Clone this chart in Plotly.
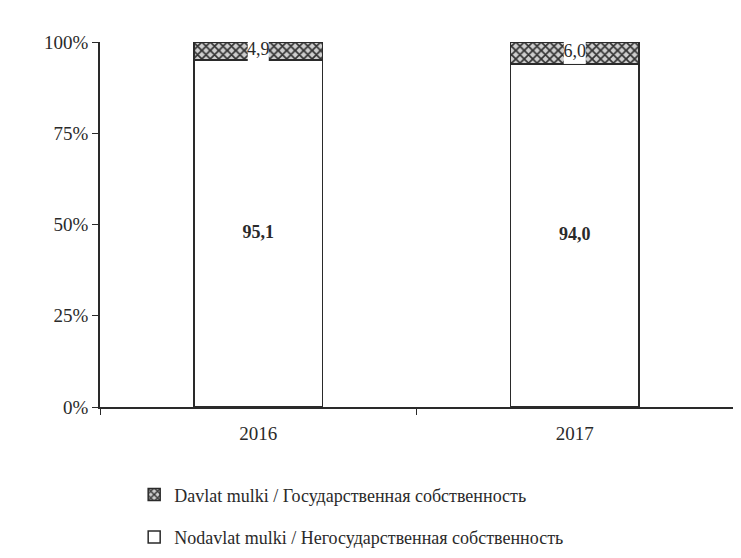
import plotly.graph_objects as go

years = ["2016", "2017"]
nonstate = [95.1, 94.0]
state = [4.9, 6.0]
name_state = "Davlat mulki / Государственная собственность"
name_nonstate = "Nodavlat mulki / Негосударственная собственность"
y_ticks = [0, 25, 50, 75, 100]

def fmt(v):
    return f"{v:.1f}".replace(".", ",")

FONT = "Liberation Serif"
INK = "#2a2a2a"
fig = go.Figure()
fig.add_trace(go.Bar(
    x=years, y=nonstate, name=name_nonstate, legendgroup="b", legendrank=2,
    marker=dict(color="white", line=dict(color=INK, width=1.5)),
))
fig.add_trace(go.Bar(
    x=years, y=state, name=name_state, legendgroup="a", legendrank=1,
    marker=dict(color="#333333", line=dict(color=INK, width=1.5),
                pattern=dict(shape="x", fgcolor="#333333", bgcolor="#cfcfcf",
                             size=6, solidity=0.5, fillmode="replace")),
))
fig.add_trace(go.Scatter(
    x=years, y=[n / 2 for n in nonstate], mode="text",
    text=[f"<b>{fmt(n)}</b>" for n in nonstate], textposition="middle center",
    textfont=dict(family=FONT, size=18, color=INK), showlegend=False,
    hoverinfo="skip",
))
fig.add_trace(go.Scatter(
    x=years, y=[n + s / 2 for n, s in zip(nonstate, state)], mode="markers+text",
    marker=dict(symbol="square", size=[21, 22], color="white", opacity=1,
                line=dict(width=0)),
    text=[fmt(s) for s in state], textposition="middle center",
    textfont=dict(family=FONT, size=18, color=INK), showlegend=False,
    hoverinfo="skip",
))

fig.update_layout(
    barmode="stack", width=725, height=542, bargap=0.595,
    margin=dict(l=92, r=0, t=34, b=143, autoexpand=False),
    paper_bgcolor="white", plot_bgcolor="white",
    font=dict(family=FONT, size=18, color=INK),
    showlegend=True,
    legend=dict(x=0.054, y=-0.19, xanchor="left", yanchor="top",
                traceorder="grouped", tracegroupgap=16,
                font=dict(family=FONT, size=18, color=INK)),
)
fig.update_xaxes(type="category", showline=True, linecolor=INK, linewidth=1.5,
                 ticks="outside", tickson="boundaries", ticklen=6, tickcolor=INK,
                 showgrid=False, ticklabelstandoff=8,
                 tickfont=dict(family=FONT, size=19, color=INK))
fig.update_yaxes(range=[0, 100], tickvals=y_ticks,
                 ticktext=[f"{v}%" for v in y_ticks],
                 showline=True, linecolor=INK, linewidth=1.5,
                 ticks="outside", ticklen=6, tickcolor=INK,
                 showgrid=False, zeroline=False,
                 tickfont=dict(family=FONT, size=19, color=INK))
fig.write_html("out.html")
